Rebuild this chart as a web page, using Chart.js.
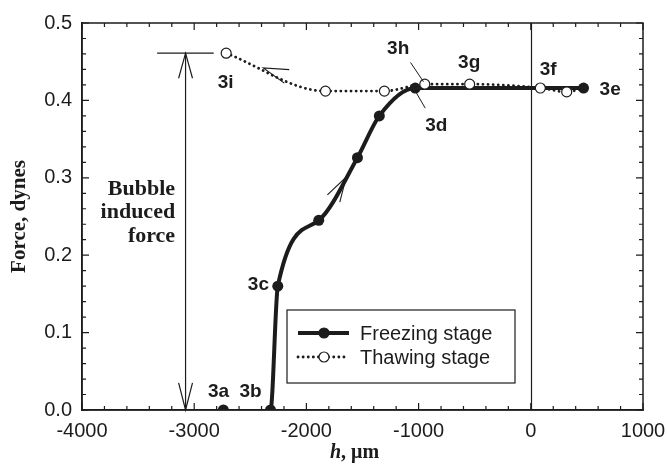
<!DOCTYPE html>
<html>
<head>
<meta charset="utf-8">
<script src="https://cdn.jsdelivr.net/npm/chart.js@4"></script>
<style>
  html, body { margin: 0; padding: 0; background: #fff; }
  #wrap { width: 667px; height: 472px; }
</style>
</head>
<body>
<div id="wrap"><canvas id="forceChart"></canvas></div>
<script>
// data: h in um, force in dynes
const freezeH = [-2740, -2320, -2255, -1890, -1545, -1350, -1030, 470];
const freezeF = [0, 0, 0.160, 0.245, 0.326, 0.380, 0.416, 0.416];

const thawH = [-2715, -1830, -1305, -945, -545, 85, 320, 470];
const thawF = [0.461, 0.412, 0.412, 0.421, 0.421, 0.416, 0.411, 0.416];

const xTicks = [-4000, -3000, -2000, -1000, 0, 1000];
const yTicks = [0, 0.1, 0.2, 0.3, 0.4, 0.5];

// point labels (h, force)
const stageLabels = [
  { t: "3a", h: -2783, f: 0.023 },
  { t: "3b", h: -2498, f: 0.023 },
  { t: "3c", h: -2428, f: 0.162 },
  { t: "3d", h: -843, f: 0.367 },
  { t: "3e", h: 707, f: 0.414 },
  { t: "3f", h: 155, f: 0.440 },
  { t: "3g", h: -549, f: 0.449 },
  { t: "3h", h: -1182, f: 0.467 },
  { t: "3i", h: -2720, f: 0.423 }
];
const leaders = [
  [[-1072, 0.449], [-956, 0.424]],
  [[-1021, 0.410], [-941, 0.390]]
];
// curve direction arrows: tip, point back along the curve
const curveArrows = [
  { tip: [-2384, 0.442], back: [-2175, 0.431] },
  { tip: [-1645, 0.301], back: [-1734, 0.279] }
];
const bubbleH = -3077;
const bubbleTop = 0.461;
const bubbleBar = [-3330, -2826];
const bubbleText = ["Bubble", "induced", "force"];

const INK = "#1c1c1c";

const freezePts = freezeH.map((h, i) => ({ x: h, y: freezeF[i] }));
const thawPts = thawH.map((h, i) => ({ x: h, y: thawF[i] }));

function arrowHead(ctx, tip, back, len, ang) {
  const dx = back[0] - tip[0], dy = back[1] - tip[1];
  const d = Math.hypot(dx, dy);
  const ux = dx / d, uy = dy / d;
  const rot = (a) => [
    tip[0] + len * (ux * Math.cos(a) - uy * Math.sin(a)),
    tip[1] + len * (ux * Math.sin(a) + uy * Math.cos(a))
  ];
  const w1 = rot(ang), w2 = rot(-ang);
  ctx.beginPath();
  ctx.moveTo(w1[0], w1[1]);
  ctx.lineTo(tip[0], tip[1]);
  ctx.lineTo(w2[0], w2[1]);
  ctx.stroke();
}

const extras = {
  id: "extras",
  beforeDatasetsDraw(chart) {
    const { ctx, chartArea: a, scales: { x } } = chart;
    ctx.save();
    ctx.strokeStyle = INK;
    ctx.lineWidth = 1.2;
    const x0 = Math.round(x.getPixelForValue(0)) + 0.5;
    ctx.beginPath();
    ctx.moveTo(x0, a.top);
    ctx.lineTo(x0, a.bottom);
    ctx.stroke();
    ctx.restore();
  },
  afterDraw(chart) {
    const { ctx, chartArea: a, scales: { x, y } } = chart;
    const P = (h, f) => [x.getPixelForValue(h), y.getPixelForValue(f)];
    ctx.save();
    ctx.strokeStyle = INK;
    ctx.fillStyle = INK;

    // frame + inward ticks
    ctx.lineWidth = 1.5;
    ctx.strokeRect(a.left, a.top, a.right - a.left, a.bottom - a.top);
    ctx.lineWidth = 1.2;
    ctx.beginPath();
    for (let v = -4000; v <= 1000; v += 200) {
      const px = x.getPixelForValue(v);
      const len = v % 1000 === 0 ? 7 : 4;
      ctx.moveTo(px, a.bottom); ctx.lineTo(px, a.bottom - len);
      ctx.moveTo(px, a.top); ctx.lineTo(px, a.top + len);
    }
    for (let k = 0; k <= 25; k++) {
      const py = y.getPixelForValue(k * 0.02);
      const len = k % 5 === 0 ? 7 : 4;
      ctx.moveTo(a.left, py); ctx.lineTo(a.left + len, py);
      ctx.moveTo(a.right, py); ctx.lineTo(a.right - len, py);
    }
    ctx.stroke();

    // bubble induced force arrow
    ctx.lineWidth = 1.2;
    const top = P(bubbleH, bubbleTop), bot = P(bubbleH, 0);
    ctx.beginPath();
    ctx.moveTo(top[0], top[1]); ctx.lineTo(bot[0], bot[1]);
    const b0 = P(bubbleBar[0], bubbleTop), b1 = P(bubbleBar[1], bubbleTop);
    ctx.moveTo(b0[0], b0[1]); ctx.lineTo(b1[0], b1[1]);
    ctx.stroke();
    arrowHead(ctx, top, [top[0], top[1] + 10], 26, 0.27);
    arrowHead(ctx, bot, [bot[0], bot[1] - 10], 28, 0.25);

    ctx.font = "bold 22px 'Liberation Serif', 'DejaVu Serif', serif";
    ctx.textAlign = "right";
    ctx.textBaseline = "middle";
    const tx = x.getPixelForValue(-3170);
    [0.2857, 0.256, 0.224].forEach((f, i) => {
      ctx.fillText(bubbleText[i], tx, y.getPixelForValue(f));
    });

    // direction arrows along curves
    ctx.lineWidth = 1.1;
    curveArrows.forEach(ar => {
      arrowHead(ctx, P(ar.tip[0], ar.tip[1]), P(ar.back[0], ar.back[1]), 26, 0.28);
    });

    // leader lines
    ctx.lineWidth = 1;
    ctx.beginPath();
    leaders.forEach(([p, q]) => {
      const s = P(p[0], p[1]), e = P(q[0], q[1]);
      ctx.moveTo(s[0], s[1]); ctx.lineTo(e[0], e[1]);
    });
    ctx.stroke();

    // stage labels
    ctx.font = "bold 19px 'Liberation Sans', Arial, sans-serif";
    ctx.textAlign = "center";
    ctx.textBaseline = "middle";
    stageLabels.forEach(l => {
      const p = P(l.h, l.f);
      ctx.fillText(l.t, p[0], p[1]);
    });

    // legend
    const lx = a.left + 205, ly = a.top + 287;
    ctx.fillStyle = "#fff";
    ctx.fillRect(lx, ly, 228, 73);
    ctx.lineWidth = 1.2;
    ctx.strokeRect(lx, ly, 228, 73);
    const rows = [
      { text: "Freezing stage", dy: 23, width: 4, dash: [], fill: INK, cap: "butt" },
      { text: "Thawing stage", dy: 47, width: 2.8, dash: [0.1, 5], fill: "#fff", cap: "round" }
    ];
    rows.forEach(r => {
      const yy = ly + r.dy;
      ctx.strokeStyle = INK;
      ctx.lineWidth = r.width;
      ctx.lineCap = r.cap;
      ctx.setLineDash(r.dash);
      ctx.beginPath();
      ctx.moveTo(lx + 11, yy); ctx.lineTo(lx + 62, yy);
      ctx.stroke();
      ctx.setLineDash([]);
      ctx.lineCap = "butt";
      ctx.lineWidth = 1.2;
      ctx.beginPath();
      ctx.arc(lx + 37, yy, 5, 0, Math.PI * 2);
      ctx.fillStyle = r.fill;
      ctx.fill();
      ctx.stroke();
      ctx.fillStyle = INK;
      ctx.font = "20px 'Liberation Sans', Arial, sans-serif";
      ctx.textAlign = "left";
      ctx.fillText(r.text, lx + 73, yy + 1);
    });

    // x axis title: italic h, upright unit
    const cx = (a.left + a.right) / 2 - 8, cy = 453;
    const f1 = "italic bold 20px 'Liberation Serif', serif";
    const f2 = "bold 20px 'Liberation Serif', serif";
    ctx.font = f1;
    const w1 = ctx.measureText("h").width;
    ctx.font = f2;
    const w2 = ctx.measureText(", \u03bcm").width;
    const sx = cx - (w1 + w2) / 2;
    ctx.textAlign = "left";
    ctx.font = f1;
    ctx.fillText("h", sx, cy);
    ctx.font = f2;
    ctx.fillText(", \u03bcm", sx + w1, cy);
    ctx.restore();
  }
};

const chart = new Chart(document.getElementById("forceChart"), {
  type: "line",
  data: {
    datasets: [
      {
        label: "Thawing stage",
        data: thawPts,
        order: 0,
        borderColor: INK,
        borderWidth: 2.8,
        borderDash: [0.1, 5],
        borderCapStyle: "round",
        cubicInterpolationMode: "monotone",
        pointRadius: thawPts.map((p, i) => i === thawPts.length - 1 ? 0 : 5),
        pointBackgroundColor: "#fff",
        pointBorderColor: INK,
        pointBorderWidth: 1.2
      },
      {
        label: "Freezing stage",
        data: freezePts,
        order: 1,
        borderColor: INK,
        borderWidth: 4,
        cubicInterpolationMode: "monotone",
        segment: {
          borderColor: c => c.p0DataIndex === 0 ? "rgba(0,0,0,0)" : undefined
        },
        pointRadius: 5.5,
        pointBackgroundColor: INK,
        pointBorderColor: INK,
        pointBorderWidth: 0
      }
    ]
  },
  options: {
    responsive: true,
    maintainAspectRatio: false,
    animation: false,
    layout: { padding: { top: 23, right: 24, left: 0, bottom: 0 } },
    plugins: {
      legend: { display: false },
      tooltip: { enabled: false }
    },
    scales: {
      x: {
        type: "linear",
        min: -4000,
        max: 1000,
        afterBuildTicks: s => { s.ticks = xTicks.map(v => ({ value: v })); },
        afterFit: s => { s.height = 62; s.paddingLeft = 0; s.paddingRight = 0; },
        grid: { display: false, drawTicks: false },
        border: { display: true, color: INK, width: 1.5 },
        ticks: {
          padding: 9,
          color: INK,
          font: { family: "'Liberation Sans', Arial, sans-serif", size: 20 },
          maxRotation: 0,
          callback: v => String(v)
        }
      },
      y: {
        type: "linear",
        min: 0,
        max: 0.5,
        afterBuildTicks: s => { s.ticks = yTicks.map(v => ({ value: v })); },
        afterFit: s => { s.width = 82; s.paddingTop = 0; s.paddingBottom = 0; },
        grid: { display: false, drawTicks: false },
        border: { display: true, color: INK, width: 1.5 },
        ticks: {
          padding: 10,
          color: INK,
          font: { family: "'Liberation Sans', Arial, sans-serif", size: 20 },
          callback: v => Number(v).toFixed(1)
        },
        title: {
          display: true,
          text: "Force, dynes",
          color: INK,
          padding: { top: 7, bottom: 0 },
          font: { family: "'Liberation Serif', serif", size: 21, weight: "bold" }
        }
      }
    }
  },
  plugins: [extras]
});
</script>
</body>
</html>
